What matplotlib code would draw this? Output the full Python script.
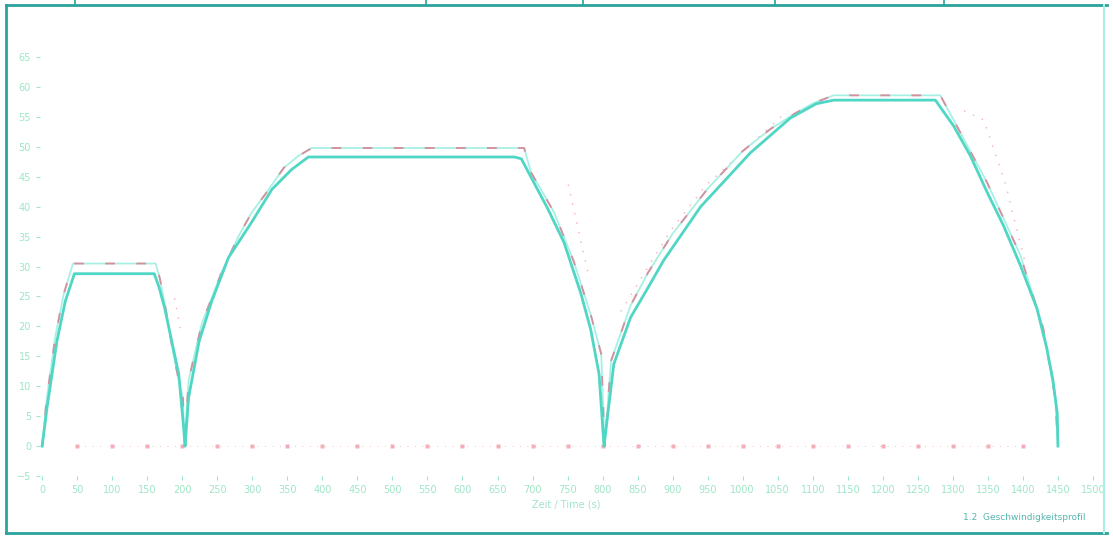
import numpy as np
import matplotlib
matplotlib.use("Agg")
from matplotlib import pyplot as plt
from matplotlib.lines import Line2D

# measured speed (cyan)
t_meas = [0, 7, 21, 33, 46, 160, 167, 175, 185, 195, 202, 204,
          209, 224, 242, 266, 299, 328, 356, 380, 674, 684, 702, 722,
          745, 769, 783, 795, 802, 816, 840, 865, 887, 940, 1011, 1068,
          1105, 1130, 1275, 1301, 1325, 1349, 1372, 1396, 1420, 1434,
          1443, 1449, 1450]
v_meas = [0, 6.5, 17.5, 24.2, 28.8, 28.8, 26.5, 23, 17.5, 12, 3, 0,
          8.1, 17.5, 24.2, 31.5, 37.4, 42.9, 46.2, 48.3, 48.3, 48.0, 44, 39.6,
          34, 25.5, 19.5, 12, 0, 13.7, 21.5, 26.5, 31, 40, 49, 54.8,
          57.2, 57.8, 57.8, 53.5, 48.5, 42.4, 36.9, 30.3, 23, 16.4,
          10.9, 5.5, 0]

# reference speed (upper line, pale cyan with red dashes)
t_ref = [0, 6, 19, 31, 44, 162, 168, 177, 187, 195, 201, 203,
         209, 228, 256, 280, 299, 318, 345, 366, 385, 688, 698, 731,
         759, 783, 798, 803, 812, 840, 865, 900, 950, 1000, 1040, 1075, 1101,
         1130, 1282, 1301, 1349, 1396, 1429, 1446, 1450]
v_ref = [0, 7.5, 18.5, 25.5, 30.5, 30.5, 28, 22.5, 15.5, 11, 8, 0,
         11, 20.5, 29, 35, 39, 42, 46.5, 48.5, 49.8, 49.8, 45.7, 39,
         30.8, 22, 15.4, 0, 14.2, 23.5, 29, 35.5, 43, 49.3, 53, 55.6, 57.3,
         58.6, 58.6, 54.5, 44, 32, 19.7, 8.1, 0]

# faint tolerance marks
t_tol = [189, 197, np.nan, 751, 779, np.nan, 826, 897, 947, 1064, np.nan,
         1316, 1344, 1376, 1386, 1404]
v_tol = [24.7, 19.7, np.nan, 43.7, 29, np.nan, 22.5, 36, 43.5, 56, np.nan,
         56, 54.5, 43.5, 38.6, 30.3]

# zero reference points
t_zero = list(range(50, 1401, 50))
v_zero = [0] * len(t_zero)

x_ticks = list(range(0, 1501, 50))
y_ticks = list(range(-5, 66, 5))

green = "#9de6c6"
cyan = "#4fd6c4"
pale = "#a8f0e4"
red = "#e8607a"

fig = plt.figure(figsize=(11.13, 5.38), dpi=100)
ax = fig.add_axes([0.036, 0.1152, 0.946, 0.7788])

ax.plot(t_ref, v_ref, color=pale, lw=1.3, zorder=2)
ax.plot(t_ref, v_ref, color=red, lw=1.4, ls=(0, (5, 11)), alpha=0.65, zorder=3)
ax.plot(t_meas, v_meas, color=cyan, lw=2.0, zorder=4)
ax.plot(t_tol, v_tol, color=red, lw=1.0, ls=(0, (1, 6)), alpha=0.5, zorder=1)
ax.plot(t_zero, v_zero, color=red, lw=0.6, ls=(0, (1, 8)), alpha=0.5,
        marker="s", ms=2.2, mec="none", mfc=red, zorder=2)

ax.set_xlim(-3, 1500)
ax.set_ylim(-5, 65)
ax.set_xticks(x_ticks)
ax.set_yticks(y_ticks)
ax.tick_params(colors=green, labelsize=7, length=3, width=0.8)
for s in ax.spines.values():
    s.set_visible(False)
ax.set_xlabel("Zeit / Time (s)", color=green, fontsize=7, labelpad=3)

# page border from the scan
teal = "#2aa39a"
fig.add_artist(Line2D([0.005, 0.005], [0.01, 0.99], color=teal, lw=2))
fig.add_artist(Line2D([0.005, 0.995], [0.99, 0.99], color=teal, lw=2))
fig.add_artist(Line2D([0.005, 0.995], [0.01, 0.01], color=teal, lw=2))
fig.add_artist(Line2D([0.992, 0.992], [0.01, 0.99], color=pale, lw=1.5))
for xd in [75, 426, 583, 775, 944]:
    fig.add_artist(Line2D([xd / 1113, xd / 1113], [0.99, 1.0], color=teal, lw=1.2))

fig.text(0.865, 0.033, "1.2  Geschwindigkeitsprofil", color=teal, fontsize=6.5,
         alpha=0.8)

plt.savefig("out.png", dpi=100)
